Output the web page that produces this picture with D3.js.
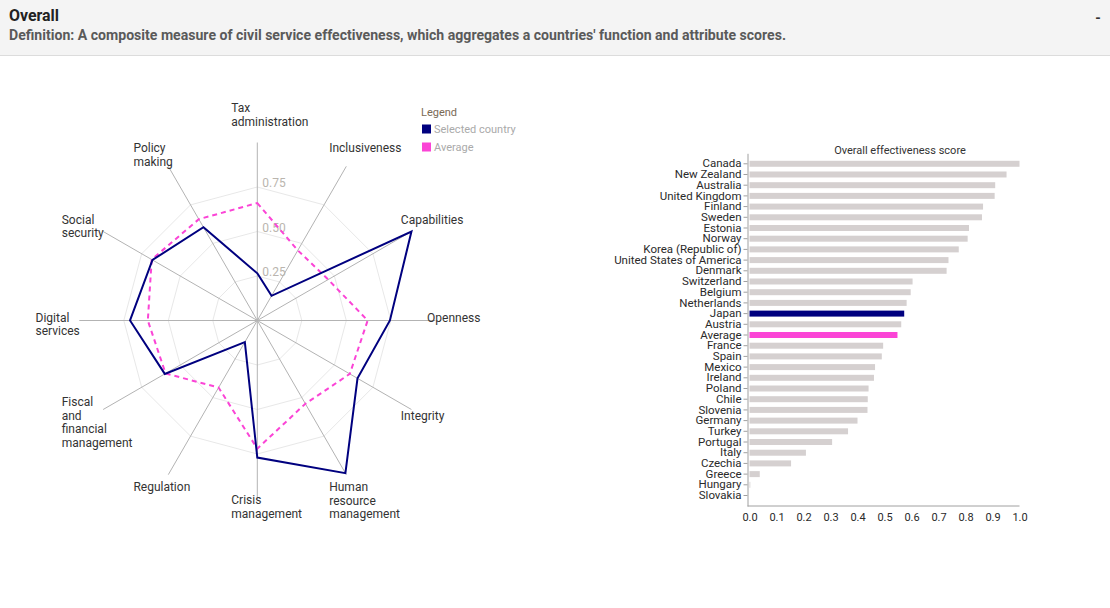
<!DOCTYPE html>
<html>
<head>
<meta charset="utf-8">
<script src="https://cdn.jsdelivr.net/npm/d3@7"></script>
<style>
  body { margin: 0; background: #fff; }
  svg { display: block; font-family: Roboto, "Liberation Sans", sans-serif; }
</style>
</head>
<body>
<div id="chart"></div>
<script>
// radar axes, clockwise from the top
const radarAxes = [
  "Tax administration",
  "Inclusiveness",
  "Capabilities",
  "Openness",
  "Integrity",
  "Human resource management",
  "Crisis management",
  "Regulation",
  "Fiscal and financial management",
  "Digital services",
  "Social security",
  "Policy making"
];
// scores (selected country = Japan)
const selectedScores = [0.265, 0.16, 1.0, 0.745, 0.65, 0.99, 0.77, 0.14, 0.6, 0.715, 0.68, 0.605];
const averageScores = [0.66, 0.455, 0.46, 0.62, 0.6, 0.54, 0.72, 0.435, 0.595, 0.615, 0.685, 0.657];
const radarTicks = [0.25, 0.5, 0.75];

// bar chart
const countries = [
  "Canada", "New Zealand", "Australia", "United Kingdom", "Finland", "Sweden",
  "Estonia", "Norway", "Korea (Republic of)", "United States of America", "Denmark",
  "Switzerland", "Belgium", "Netherlands", "Japan", "Austria", "Average", "France",
  "Spain", "Mexico", "Ireland", "Poland", "Chile", "Slovenia", "Germany", "Turkey",
  "Portugal", "Italy", "Czechia", "Greece", "Hungary", "Slovakia"
];
const effectivenessScores = [
  1.0, 0.952, 0.91, 0.908, 0.865, 0.861, 0.813, 0.808, 0.775, 0.737, 0.73,
  0.604, 0.597, 0.582, 0.573, 0.562, 0.548, 0.495, 0.49, 0.465, 0.461, 0.441,
  0.438, 0.437, 0.4, 0.365, 0.306, 0.209, 0.154, 0.038, 0.003, 0
];
const xTicks = [0, 0.1, 0.2, 0.3, 0.4, 0.5, 0.6, 0.7, 0.8, 0.9, 1.0];

const selectedName = "Japan";
const averageName = "Average";
const navy = "#00007f";
const pink = "#fb44d6";
const grey = "#d5d0d0";

const svg = d3
  .select("#chart")
  .append("svg")
  .attr("width", 1110)
  .attr("height", 608);

// header band
svg.append("rect").attr("width", 1110).attr("height", 55).attr("fill", "#f4f4f4");
svg.append("line")
  .attr("x1", 0).attr("x2", 1110)
  .attr("y1", 55.5).attr("y2", 55.5)
  .attr("stroke", "#dcdcdc");
svg.append("text")
  .attr("x", 9).attr("y", 21)
  .attr("font-size", 16).attr("font-weight", "bold").attr("fill", "#222")
  .attr("textLength", 50).attr("lengthAdjust", "spacingAndGlyphs")
  .text("Overall");
svg.append("text")
  .attr("x", 9).attr("y", 39.5)
  .attr("font-size", 14).attr("font-weight", "bold").attr("fill", "#5a5a5a")
  .attr("textLength", 777).attr("lengthAdjust", "spacingAndGlyphs")
  .text("Definition: A composite measure of civil service effectiveness, which aggregates a countries' function and attribute scores.");
svg.append("text")
  .attr("x", 1098).attr("y", 23)
  .attr("font-size", 14).attr("font-weight", "bold").attr("fill", "#333")
  .attr("text-anchor", "middle")
  .text("-");

// ---------- radar ----------
const cx = 257.3, cy = 320.5;
const r = d3.scaleLinear().domain([0, 1]).range([0, 178]);
const angle = i => (i * 2 * Math.PI) / radarAxes.length;
const point = (v, i) => [cx + Math.sin(angle(i)) * r(v), cy - Math.cos(angle(i)) * r(v)];
const closed = d3.line().curve(d3.curveLinearClosed);

const radar = svg.append("g");

// grid rings
radar.selectAll(".ring")
  .data(radarTicks)
  .enter()
  .append("path")
  .attr("d", t => closed(radarAxes.map((_, i) => point(t, i))))
  .attr("fill", "none")
  .attr("stroke", "#e8e8e8");

// spokes
radar.selectAll(".spoke")
  .data(radarAxes)
  .enter()
  .append("line")
  .attr("x1", cx).attr("y1", cy)
  .attr("x2", (d, i) => point(1, i)[0])
  .attr("y2", (d, i) => point(1, i)[1])
  .attr("stroke", "#b3b3b3");

// tick labels on the top spoke
radar.selectAll(".tick")
  .data(radarTicks)
  .enter()
  .append("text")
  .attr("x", cx + 5)
  .attr("y", t => cy - r(t) - 4)
  .attr("dy", "0.35em")
  .attr("font-size", 12)
  .attr("fill", "#bab5ae")
  .text(d3.format(".2f"));

// series
radar.append("path")
  .attr("d", closed(averageScores.map(point)))
  .attr("fill", "none")
  .attr("stroke", pink)
  .attr("stroke-width", 2)
  .attr("stroke-dasharray", "5,4");

radar.append("path")
  .attr("d", closed(selectedScores.map(point)))
  .attr("fill", "none")
  .attr("stroke", navy)
  .attr("stroke-width", 2);

// axis labels, one word per line
const lifted = ["Tax administration", "Crisis management", "Fiscal and financial management"];
const lineH = 13.6;
radarAxes.forEach((name, i) => {
  const lx = cx + Math.sin(angle(i)) * r(1.1) - 26;
  const ly = cy - Math.cos(angle(i)) * r(1.1) - 3 - (lifted.includes(name) ? lineH : 0);
  const t = radar.append("text").attr("font-size", 12).attr("fill", "#333");
  name.split(" ").forEach((w, k) => {
    t.append("tspan").attr("x", lx).attr("y", ly + k * lineH).attr("dy", "0.35em").text(w);
  });
});

// legend
const legend = svg.append("g").attr("font-size", 11);
legend.append("text").attr("x", 421).attr("y", 112).attr("dy", "0.35em")
  .attr("fill", "#7a6a55").text("Legend");
[["Selected country", navy], ["Average", pink]].forEach(([label, c], k) => {
  legend.append("rect")
    .attr("x", 422).attr("y", 124.5 + k * 18)
    .attr("width", 9).attr("height", 9)
    .attr("fill", c);
  legend.append("text")
    .attr("x", 434).attr("y", 129 + k * 18).attr("dy", "0.35em")
    .attr("fill", "#aaa").text(label);
});

// ---------- bar chart ----------
const x = d3.scaleLinear().domain([0, 1]).range([749.5, 1019.5]);
const y = d3.scaleBand()
  .domain(countries)
  .range([153.3, 506])
  .paddingInner(0.44)
  .paddingOuter(0.7);
const axisX = 747.5;

const bars = svg.append("g");
bars.selectAll("rect")
  .data(countries)
  .enter()
  .append("rect")
  .attr("x", x(0))
  .attr("y", d => y(d))
  .attr("height", y.bandwidth())
  .attr("width", (d, i) => x(effectivenessScores[i]) - x(0))
  .attr("fill", d => (d === selectedName ? navy : d === averageName ? pink : grey));

const yAxisGroup = svg.append("g")
  .attr("transform", `translate(${axisX}, 0)`)
  .call(d3.axisLeft(y).tickSize(4).tickSizeOuter(0).tickPadding(2));
yAxisGroup.selectAll("text").attr("font-size", 11.5).attr("fill", "#2a2a2a").attr("font-family", "Roboto, sans-serif");
yAxisGroup.selectAll("line, path").attr("stroke", "#a0a0a0");

const xAxisGroup = svg.append("g")
  .attr("transform", "translate(0, 506)")
  .call(d3.axisBottom(x).tickValues(xTicks).tickFormat(d3.format(".1f")).tickSize(0).tickPadding(7));
xAxisGroup.select(".domain").remove();
xAxisGroup.append("line")
  .attr("x1", axisX).attr("x2", x(1))
  .attr("stroke", "#a0a0a0");
xAxisGroup.selectAll("text").attr("font-size", 11).attr("fill", "#2a2a2a").attr("font-family", "Roboto, sans-serif");

svg.append("text")
  .attr("x", 900).attr("y", 150).attr("dy", "0.35em")
  .attr("text-anchor", "middle")
  .attr("font-size", 11).attr("fill", "#333")
  .text("Overall effectiveness score");
</script>
</body>
</html>
